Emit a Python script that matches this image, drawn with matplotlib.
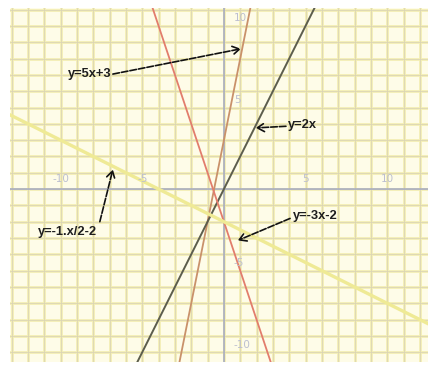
import numpy as np
import matplotlib.pyplot as plt
from matplotlib.ticker import MultipleLocator

# Rectas del dibujo: pendiente y ordenada al origen
pendientes = [5, 2, -3, -0.5]
ordenadas = [3, 0, -2, -2]
colores = ['#c9916a', '#5c5d4c', '#e27d6c', '#efea95']
grosores = [1.3, 1.4, 1.3, 2.4]

# Etiquetas de los ejes
marcas_x = [-10, -5, 5, 10]
marcas_y = [10, 5, -5, -10]

# Anotaciones: texto, posicion del texto, alineacion, inicio y punta de la flecha
textos = ['y=5x+3', 'y=2x', 'y=-1.x/2-2', 'y=-3x-2']
pos_texto = [(-6.85, 7.05), (3.95, 3.9), (-9.55, -2.65), (4.2, -1.65)]
alineacion = ['right', 'left', 'center', 'left']
inicio_flecha = [(-6.8, 7.05), (3.8, 3.85), (-7.6, -2.0), (4.05, -1.8)]
punta_flecha = [(1.05, 8.6), (1.95, 3.75), (-6.8, 1.2), (0.85, -3.15)]

fig = plt.figure(figsize=(4.33, 3.67), dpi=100)
ax = fig.add_axes([10 / 433, 5 / 367, 418 / 433, 354 / 367])
ax.set_xlim(-13.1, 12.5)
ax.set_ylim(-10.6, 11.1)
ax.set_facecolor('#fefce8')

# cuadricula tipo papel milimetrado, una linea por unidad
ax.xaxis.set_major_locator(MultipleLocator(1))
ax.yaxis.set_major_locator(MultipleLocator(1))
ax.grid(which='major', color='#f3eeb4', lw=2.0)
for v in np.arange(-13, 13):
    ax.axvline(v, color='#dcd6b4', lw=0.6, zorder=0.6)
for v in np.arange(-10, 12):
    ax.axhline(v, color='#dcd6b4', lw=0.6, zorder=0.6)
ax.set_axisbelow(True)
ax.tick_params(which='both', length=0, labelbottom=False, labelleft=False)
for s in ax.spines.values():
    s.set_visible(False)

# ejes
ax.axhline(0, color='#a4a9c2', lw=1.1)
ax.axvline(0, color='#a4a9c2', lw=1.1)

for v in marcas_x:
    ax.text(v, 0.3, str(v), color='#bcbfd0', fontsize=7.5, ha='center', va='bottom')
for v in marcas_y:
    ax.text(0.6, v + 0.15, str(v), color='#bcbfd0', fontsize=7.5, ha='left', va='bottom')

# rectas
for m, b, c, g in zip(pendientes, ordenadas, colores, grosores):
    ax.axline((0, b), slope=m, color=c, lw=g)

# anotaciones con flecha discontinua
for t, p, al, a, f in zip(textos, pos_texto, alineacion, inicio_flecha, punta_flecha):
    ax.text(p[0], p[1], t, fontsize=9.3, fontweight='bold', family='Liberation Sans',
            ha=al, va='center', color='#1e1e1e')
    ax.annotate('', xy=f, xytext=a,
                arrowprops=dict(arrowstyle='->,head_length=0.5,head_width=0.3',
                                color='#111111', lw=1.2,
                                linestyle=(0, (4, 1.2)), shrinkA=0, shrinkB=0))

fig.savefig('out.png', dpi=100)
